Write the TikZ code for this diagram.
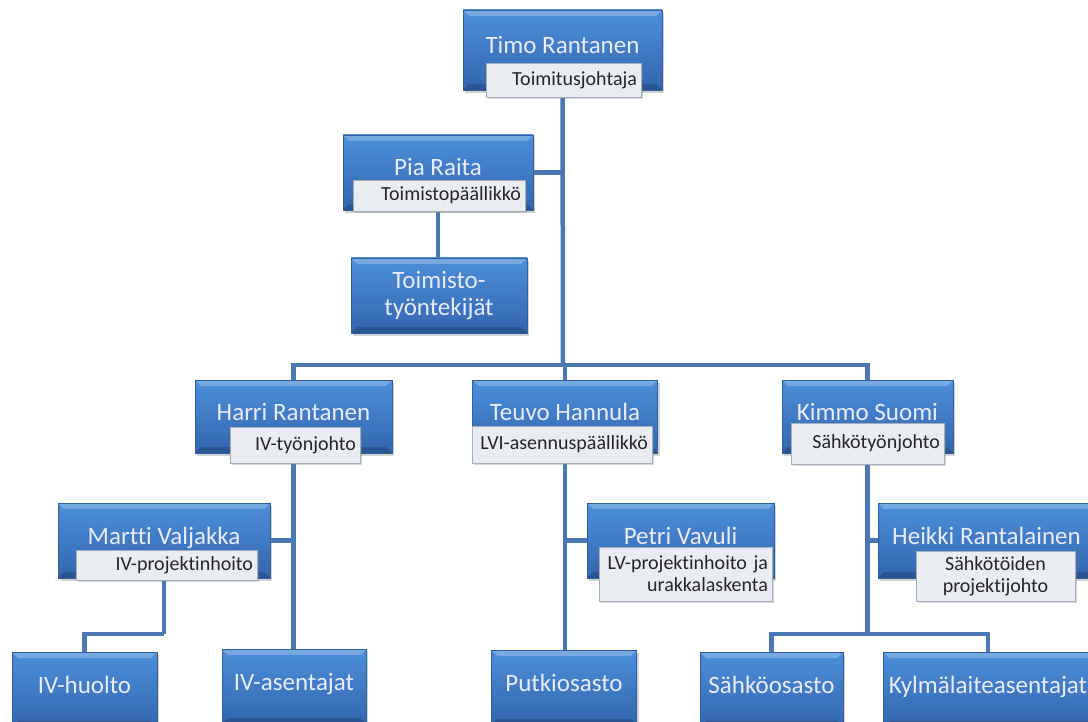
\documentclass[tikz,border=0pt]{standalone}
\usepackage{fontspec}
\setmainfont{Carlito}[Ligatures=NoCommon]
\usetikzlibrary{shadows,backgrounds}
\definecolor{boxtop}{HTML}{4C8FDA}
\definecolor{boxbot}{HTML}{3366AE}
\definecolor{boxedge}{HTML}{2F5F9E}
\definecolor{linkblue}{HTML}{4A78B5}
\definecolor{rolefill}{HTML}{E9ECF1}
\definecolor{roleedge}{HTML}{A3AFBF}
\begin{document}
\begin{tikzpicture}[x=1pt,y=-1pt,
  unit/.style={rectangle, draw=boxedge, line width=0.6pt, top color=boxtop, bottom color=boxbot,
    text=white!92!blue, font=\fontsize{25}{27}\selectfont,
    drop shadow={opacity=0.35, shadow xshift=2pt, shadow yshift=-3pt},
    path picture={
      \fill[white, opacity=0.25] (path picture bounding box.north west) -- (path picture bounding box.north east)
        -- ([shift={(-6pt,-6pt)}]path picture bounding box.north east) -- ([shift={(6pt,-6pt)}]path picture bounding box.north west) -- cycle;
      \fill[black, opacity=0.18] (path picture bounding box.south west) -- (path picture bounding box.south east)
        -- ([shift={(-6pt,6pt)}]path picture bounding box.south east) -- ([shift={(6pt,6pt)}]path picture bounding box.south west) -- cycle;
    }},
  box/.style={unit, text height=17pt, text depth=10pt},
  role/.style={rectangle, draw=roleedge, line width=0.6pt, fill=rolefill, text=black!85,
    font=\fontsize{20}{22}\selectfont, inner xsep=4pt, inner ysep=2pt, align=right,
    drop shadow={opacity=0.3, shadow xshift=1.5pt, shadow yshift=-2pt}},
  link/.style={draw=linkblue, line width=4.5pt}]
\useasboundingbox (0,0) rectangle (1088,722);
\clip (0,0) rectangle (1088,722);
% people
\node[box, minimum width=199pt, minimum height=80pt] (pid0) at (562.5,50) {Timo Rantanen};
\node[role, minimum width=155pt, minimum height=34pt, text width=147pt] (rid0) at (563.5,80) {Toimitusjohtaja};
\node[box, minimum width=190pt, minimum height=75pt] (pid1) at (438,172.5) {Pia Raita};
\node[role, minimum width=172pt, minimum height=31pt, text width=164pt] (rid1) at (439,195.5) {Toimistopäällikkö};
\node[unit, minimum width=176pt, minimum height=75pt, align=center] (oid0) at (439,295.5) {Toimisto-\\työntekijät};
\node[box, minimum width=197pt, minimum height=73pt] (pid2) at (293.5,416.5) {Harri Rantanen};
\node[role, minimum width=130pt, minimum height=36pt, text width=122pt] (rid2) at (295,445) {IV-työnjohto};
\node[box, minimum width=185pt, minimum height=73pt] (pid3) at (565,416.5) {Teuvo Hannula};
\node[role, minimum width=180pt, minimum height=37pt, text width=172pt] (rid3) at (562,444.5) {LVI-asennuspäällikkö};
\node[box, minimum width=171pt, minimum height=73pt] (pid4) at (867.5,416.5) {Kimmo Suomi};
\node[role, minimum width=153pt, minimum height=41pt, text width=145pt] (rid4) at (867.5,443.5) {Sähkötyönjohto};
\node[box, minimum width=212pt, minimum height=75pt] (pid5) at (164,540.5) {Martti Valjakka};
\node[role, minimum width=181pt, minimum height=30pt, text width=173pt] (rid5) at (166.5,565) {IV-projektinhoito};
\node[box, minimum width=187pt, minimum height=75pt] (pid6) at (680.5,540.5) {Petri Vavuli};
\node[role, minimum width=173pt, minimum height=54pt, text width=165pt] (rid6) at (685.5,574) {LV-projektinhoito ja\\urakkalaskenta};
\node[box, minimum width=217pt, minimum height=75pt] (pid7) at (986.5,540.5) {Heikki Rantalainen};
\node[role, minimum width=159pt, minimum height=50pt, text width=151pt, align=center] (rid7) at (995.5,576) {Sähkötöiden\\projektijohto};
% departments
\node[box, minimum width=145pt, minimum height=75pt] (oid1) at (84.5,689.5) {IV-huolto};
\node[box, minimum width=144pt, minimum height=75pt] (oid2) at (294,686.5) {IV-asentajat};
\node[box, minimum width=145pt, minimum height=75pt] (oid3) at (564,687.5) {Putkiosasto};
\node[box, minimum width=143pt, minimum height=75pt] (oid4) at (771.5,689.5) {Sähköosasto};
\node[box, minimum width=210pt, minimum height=75pt] (oid5) at (988,689.5) {Kylmälaiteasentajat};
\coordinate (bus) at (563,365);
\coordinate (mj) at (164,634);
\coordinate (kj) at (867.5,634);
\begin{pgfonlayer}{background}
\fill[white] (0,0) rectangle (1088,722);
\draw[link] (pid0.south) -- (bus);
\draw[link] (pid1.east) -- (pid1.east -| pid0.south);
\draw[link] (pid1.south) -- (pid1.south |- oid0.north);
\draw[link] (pid2.north) |- (bus) -| (pid4.north);
\draw[link] (pid3.north) -- (pid3.north |- bus);
\draw[link] (pid2.south) -- (pid2.south |- oid2.north);
\draw[link] (pid5.east) -- (pid5.east -| pid2.south);
\draw[link] (pid5.south) -- (mj);
\draw[link] (mj) -| (oid1.north);
\draw[link] (pid3.south) -- (pid3.south |- oid3.north);
\draw[link] (pid6.west) -- (pid6.west -| pid3.south);
\draw[link] (pid4.south) -- (kj);
\draw[link] (oid4.north) |- (kj) -| (oid5.north);
\draw[link] (pid7.west) -- (pid7.west -| pid4.south);
\end{pgfonlayer}
\end{tikzpicture}
\end{document}
